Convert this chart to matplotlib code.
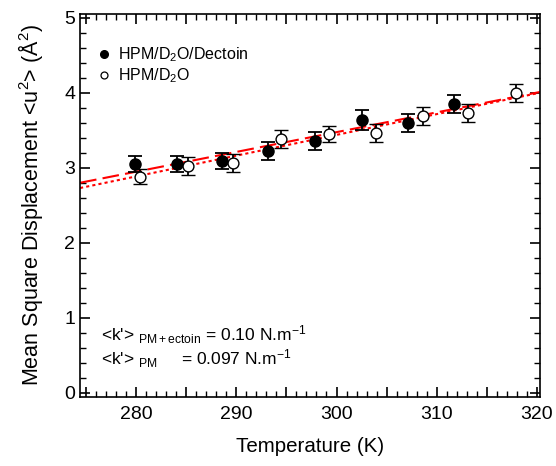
import matplotlib
matplotlib.use("Agg")
import matplotlib.pyplot as plt
from matplotlib.ticker import MultipleLocator, FuncFormatter

plt.rcParams['font.family'] = ['Liberation Sans', 'DejaVu Sans']
plt.rcParams['mathtext.fontset'] = 'custom'
plt.rcParams['mathtext.rm'] = 'Liberation Sans'
plt.rcParams['mathtext.it'] = 'Liberation Sans:italic'
plt.rcParams['mathtext.bf'] = 'Liberation Sans:bold'

# Data: HPM/D2O/Dectoin (filled)
T_ect = [279.9, 284.1, 288.6, 293.2, 297.9, 302.5, 307.1, 311.7]
msd_ect = [3.05, 3.05, 3.09, 3.22, 3.36, 3.64, 3.60, 3.85]
err_ect = [0.11, 0.11, 0.11, 0.12, 0.12, 0.13, 0.12, 0.12]

# Data: HPM/D2O (open)
T_pm = [280.4, 285.2, 289.7, 294.5, 299.2, 303.9, 308.6, 313.1, 317.9]
msd_pm = [2.88, 3.03, 3.07, 3.39, 3.45, 3.47, 3.69, 3.73, 4.00]
err_pm = [0.10, 0.12, 0.12, 0.12, 0.11, 0.12, 0.12, 0.12, 0.12]

# Fit lines (endpoints)
fit_T = [274.4, 320.3]
fit_ect = [2.80, 4.01]
fit_pm = [2.73, 4.00]

fig = plt.figure(figsize=(5.56, 4.66), dpi=100)
ax = fig.add_axes([0.144, 0.149, 0.827, 0.821])

ax.plot(fit_T, fit_ect, color='red', lw=1.5, ls=(0, (8, 3)), zorder=2)
ax.plot(fit_T, fit_pm, color='red', lw=1.5, ls=(0, (1.5, 1.5)), zorder=2)

ax.errorbar(T_ect, msd_ect, yerr=err_ect, fmt='o', color='black', mfc='black',
            ms=8, capsize=4.8, elinewidth=1.3, capthick=1.3, zorder=3)
ax.errorbar(T_pm, msd_pm, yerr=err_pm, fmt='o', color='black', mfc='white',
            ms=7.8, mew=1.0, capsize=4.8, elinewidth=1.3, capthick=1.3, zorder=3)

# legend (markers only)
h1, = ax.plot([], [], 'o', color='black', ms=5.5)
h2, = ax.plot([], [], 'o', color='black', mfc='white', ms=5.0, mew=0.9)
ax.legend([h1, h2], [r'HPM/D$_2$O/Dectoin', r'HPM/D$_2$O'], loc='upper left',
          bbox_to_anchor=(0.02, 0.935), frameon=False, fontsize=11.5,
          handletextpad=0.4, borderaxespad=0, handlelength=1.0, labelspacing=0.15)

ax.text(0.045, 0.163, r"<k'> $_{\mathregular{PM+ectoin}}$ = 0.10 N.m$^{\mathregular{-1}}$",
        transform=ax.transAxes, fontsize=12.5, va='center')
ax.text(0.045, 0.098, r"<k'> $_{\mathregular{PM}}$     = 0.097 N.m$^{\mathregular{-1}}$",
        transform=ax.transAxes, fontsize=12.5, va='center')

ax.set_xlim(274.4, 320.3)
ax.set_ylim(-0.05, 5.05)
ax.xaxis.set_major_locator(MultipleLocator(5))
ax.xaxis.set_major_formatter(FuncFormatter(lambda v, p: f"{v:.0f}" if round(v) % 10 == 0 else ""))
ax.xaxis.set_minor_locator(MultipleLocator(1))
ax.yaxis.set_major_locator(MultipleLocator(1))
ax.yaxis.set_minor_locator(MultipleLocator(0.2))
ax.tick_params(which='both', direction='in', top=True, right=True, labelsize=14)
ax.tick_params(which='major', length=7, width=1.2)
ax.tick_params(which='minor', length=4, width=1.0)
ax.tick_params(axis='x', which='major', pad=7)
for s in ax.spines.values():
    s.set_linewidth(1.2)

ax.set_xlabel('Temperature (K)', fontsize=14.8, labelpad=10)
ax.set_ylabel(r'Mean Square Displacement <u$^2$> (Å$^2$)', fontsize=15.5, labelpad=14)

fig.savefig('out.png', dpi=100)
